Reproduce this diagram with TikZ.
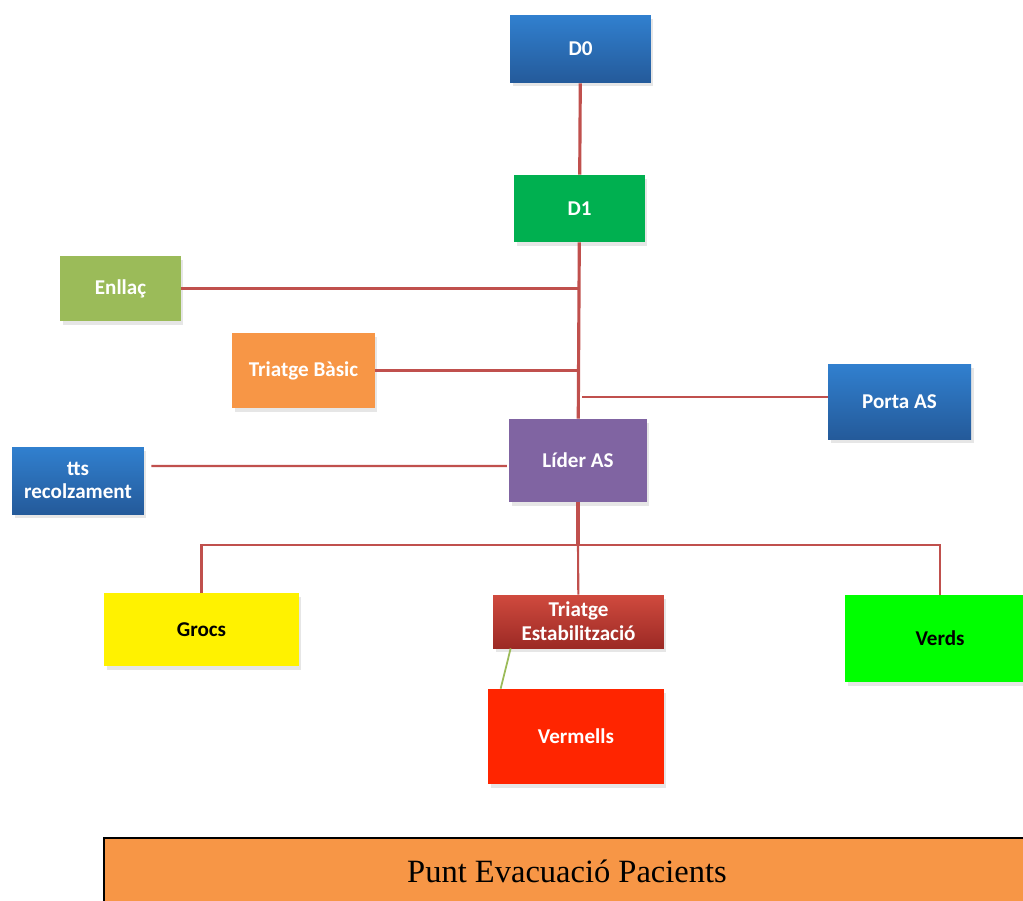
\documentclass[tikz,border=0pt]{standalone}
\usepackage{fontspec}
\setmainfont{Liberation Serif}
\newfontfamily\boxfont{Carlito}
\usetikzlibrary{shadows}
\definecolor{bluetop}{HTML}{3180CF}
\definecolor{bluebot}{HTML}{245A9A}
\definecolor{dgreen}{HTML}{00B050}
\definecolor{olive}{HTML}{9BBB59}
\definecolor{orng}{HTML}{F79646}
\definecolor{purp}{HTML}{8064A2}
\definecolor{redtop}{HTML}{D04A3E}
\definecolor{redbot}{HTML}{9C2A25}
\definecolor{vermell}{HTML}{FF2500}
\definecolor{linkred}{HTML}{C0504D}
\tikzset{
  >=latex,
}
\tikzstyle{box}=[rectangle,inner sep=2pt,align=center,text=white,
  font=\boxfont\bfseries\fontsize{12}{13.5}\selectfont,
  drop shadow={opacity=.2,shadow xshift=.05cm,shadow yshift=-.07cm}]
\tikzstyle{bluebox}=[box,top color=bluetop,bottom color=bluebot]
\tikzstyle{link}=[linkred,line width=1.2pt]
\tikzstyle{trunk}=[linkred,line width=1.8pt]

\begin{document}
\begin{tikzpicture}[x=0.02cm,y=-0.02cm]
    \useasboundingbox (0,0) rectangle (1023,900);
    % boxes
    \node[bluebox,minimum width=2.82cm,minimum height=1.36cm] (d0) at (580.5,49) {D0};
    \node[box,fill=dgreen,minimum width=2.62cm,minimum height=1.34cm] (d1) at (579.5,208.5) {D1};
    \node[box,fill=olive,minimum width=2.42cm,minimum height=1.30cm] (enllac) at (120.5,288.5) {Enllaç};
    \node[box,fill=orng,minimum width=2.86cm,minimum height=1.50cm] (basic) at (303.5,370.5) {Triatge Bàsic};
    \node[bluebox,minimum width=2.86cm,minimum height=1.50cm] (porta) at (899.5,401.5) {Porta AS};
    \node[box,fill=purp,minimum width=2.76cm,minimum height=1.66cm] (lider) at (578,460.5) {Líder AS};
    \node[bluebox,minimum width=2.64cm,minimum height=1.34cm] (tts) at (78,480.5) {tts\\recolzament};
    \node[box,fill=yellow,text=black,minimum width=3.90cm,minimum height=1.46cm] (grocs) at (201.5,629.5) {Grocs};
    \node[box,top color=redtop,bottom color=redbot,minimum width=3.42cm,minimum height=1.06cm,inner sep=1pt] (estab) at (578.5,621.5) {Triatge\\Estabilització};
    \node[box,fill=green,text=black,minimum width=3.80cm,minimum height=1.74cm] (verds) at (940,638.5) {Verds};
    \node[box,fill=vermell,minimum width=3.52cm,minimum height=1.90cm] (vermells) at (576,736.5) {Vermells};
    \node[draw=black,line width=1pt,fill=orng,minimum width=18.52cm,minimum height=1.32cm,
      font=\fontsize{18.5}{21}\selectfont] (punt) at (567,871) {Punt Evacuació Pacients};
    % connectors
    \draw[trunk] (d0) -- (d1);
    \draw[trunk] (d1) -- (lider);
    \draw[link] (enllac.east) -- (enllac.east -| d1.south);
    \draw[link] (basic.east) -- (basic.east -| d1.south);
    \draw[link] ([yshift=0.09cm]porta.west) -- ([yshift=0.09cm,xshift=0.05cm]porta.west -| d1.south);
    \draw[link,shorten <=4pt,shorten >=1pt] ([yshift=0.29cm]tts.east) -- ([yshift=-0.11cm]lider.west);
    \coordinate (bus) at (lider.south |- 0,545);
    \draw[trunk] (lider) -- (bus);
    \draw[link] (grocs) |- (bus) -| (verds);
    \draw[link] (bus) -- (estab);
    \draw[olive,line width=1pt] ([xshift=0.36cm]estab.south west) -- ([xshift=0.26cm]vermells.north west);
\end{tikzpicture}
\end{document}
